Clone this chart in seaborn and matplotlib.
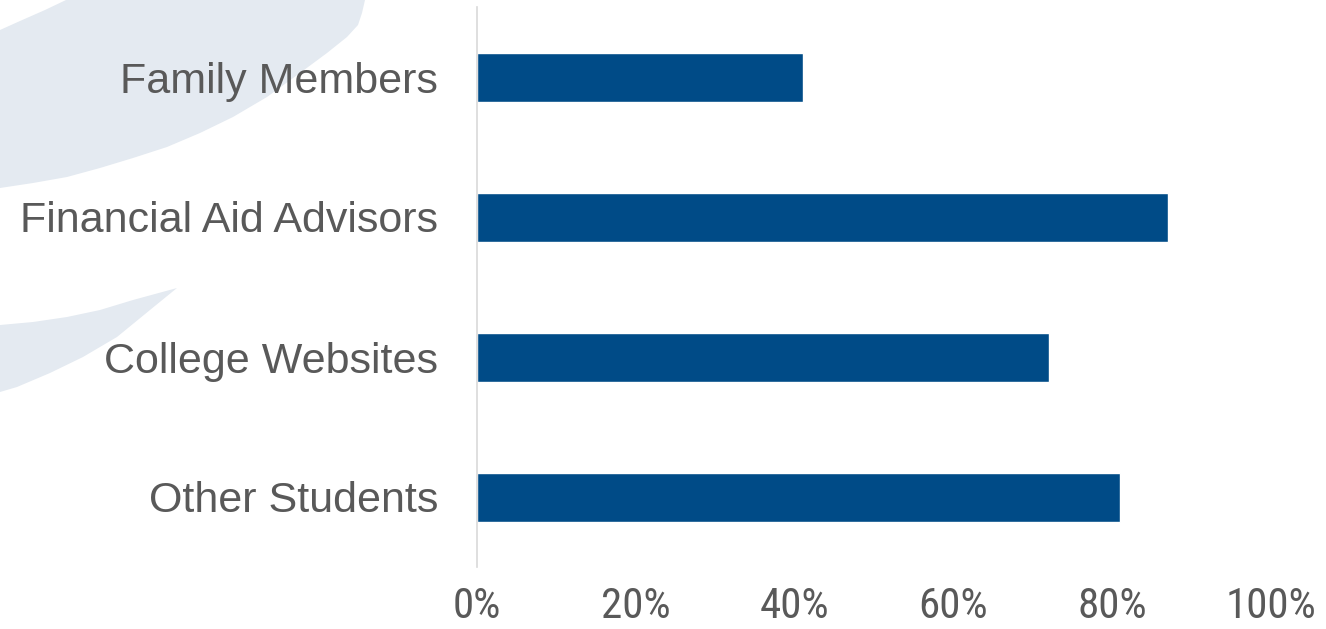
import matplotlib
matplotlib.use("Agg")
import matplotlib.pyplot as plt
from matplotlib import font_manager
from matplotlib.patches import Polygon
import seaborn as sns
import pandas as pd

categories = ["Family Members", "Financial Aid Advisors", "College Websites", "Other Students"]
values = [0.41, 0.87, 0.72, 0.81]
xticks = [0, 0.2, 0.4, 0.6, 0.8, 1.0]
xtick_labels = ["0%", "20%", "40%", "60%", "80%", "100%"]

sns.set_theme(style="white")
names = {f.name for f in font_manager.fontManager.ttflist}
narrow = "Liberation Sans"
for cand in ["Liberation Sans Narrow", "Arial Narrow", "Roboto Condensed",
             "Open Sans Condensed", "Noto Sans Condensed"]:
    if cand in names:
        narrow = cand
        break
plt.rcParams["font.family"] = ["Liberation Sans", "DejaVu Sans"]

W, H = 1326, 629
fig = plt.figure(figsize=(W / 100, H / 100), dpi=100)
fig.patch.set_facecolor("white")

def px(pts):
    return [(x / W, 1 - y / H) for x, y in pts]

swoosh = "#e4eaf1"
big = [(66, 0), (365, 0), (362, 13), (358, 25), (347, 37), (327, 53), (300, 73),
       (267, 97), (233, 117), (200, 133), (167, 147), (133, 158), (100, 168),
       (67, 177), (33, 183), (0, 188), (0, 30), (20, 21), (45, 10)]
small = [(177, 288), (133, 300), (100, 310), (67, 317), (33, 322), (0, 325),
         (0, 392), (17, 387), (50, 373), (83, 357), (117, 337), (150, 310)]
for shape in (big, small):
    fig.patches.append(Polygon(px(shape), closed=True, transform=fig.transFigure,
                               facecolor=swoosh, edgecolor="none", zorder=-1))

ax = fig.add_axes([477 / W, (H - 567) / H, (1271 - 477) / W, 560 / H])
ax.set_facecolor("none")
df = pd.DataFrame({"cat": categories, "val": values})
sns.barplot(data=df, x="val", y="cat", orient="h", color="#004b87", saturation=1,
            width=0.35, ax=ax)
ax.set_xlim(0, 1)
ax.set_ylim(3.5, -0.5)
ax.set_xlabel("")
ax.set_ylabel("")
ax.set_xticks(xticks)
ax.set_xticklabels(xtick_labels, fontsize=31, color="#595959", family=[narrow, "DejaVu Sans"])
ax.tick_params(axis="x", length=0, pad=14)
ax.tick_params(axis="y", length=0, pad=28, labelsize=31, labelcolor="#595959")
for s in ["top", "right", "bottom"]:
    ax.spines[s].set_visible(False)
ax.spines["left"].set_color("#d9d9d9")
ax.spines["left"].set_linewidth(1.2)

fig.savefig("out.png", dpi=100)
